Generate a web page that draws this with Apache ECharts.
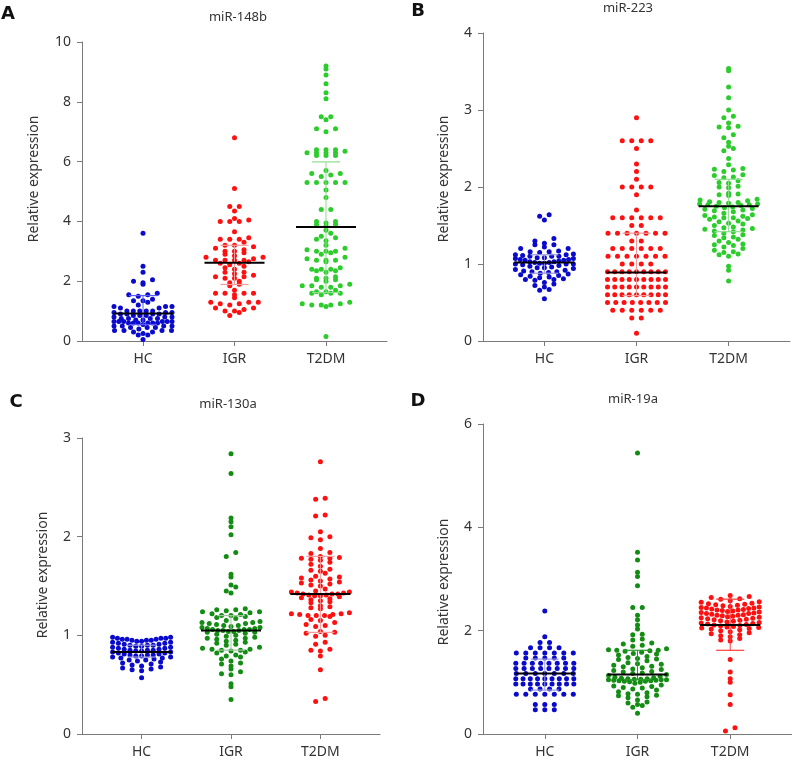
<!DOCTYPE html>
<html><head><meta charset="utf-8">
<script src="https://cdn.jsdelivr.net/npm/echarts@6/dist/echarts.min.js"></script>
<style>html,body{margin:0;padding:0;background:#fff}#c{width:792px;height:762px}</style>
</head><body><div id="c"></div>
<script>
const categories = ['HC', 'IGR', 'T2DM'];
const panelLetters = ['A', 'B', 'C', 'D'];
const panelTitles = ['miR-148b', 'miR-223', 'miR-130a', 'miR-19a'];
const yAxisName = 'Relative expression';
const yMax = [10, 4, 3, 6];
const yInterval = [2, 1, 1, 2];

// Panel A: miR-148b
const a_HC = [3.6, 2.5, 2.3, 2.05, 2.0, 1.95, 1.9, 1.6, 1.55, 1.55, 1.5, 1.4, 1.35, 1.35, 1.3, 1.2, 1.15, 1.15, 1.15, 1.1, 1.1, 1.0, 1.0, 1.0, 1.0, 1.0, 0.95, 0.95, 0.95, 0.9, 0.9, 0.9, 0.9, 0.85, 0.85, 0.85, 0.8, 0.8, 0.8, 0.75, 0.75, 0.75, 0.75, 0.7, 0.7, 0.65, 0.65, 0.65, 0.65, 0.65, 0.65, 0.6, 0.6, 0.6, 0.6, 0.6, 0.6, 0.55, 0.5, 0.5, 0.5, 0.5, 0.45, 0.45, 0.45, 0.4, 0.35, 0.35, 0.35, 0.35, 0.3, 0.3, 0.25, 0.2, 0.2, 0.05];
const a_IGR = [6.8, 5.1, 4.5, 4.5, 4.35, 4.1, 4.05, 4.0, 4.0, 4.0, 3.65, 3.45, 3.4, 3.4, 3.4, 3.3, 3.2, 3.2, 3.15, 3.1, 3.05, 3.0, 3.0, 2.95, 2.9, 2.85, 2.8, 2.8, 2.75, 2.7, 2.7, 2.7, 2.7, 2.65, 2.6, 2.6, 2.55, 2.5, 2.45, 2.4, 2.3, 2.3, 2.25, 2.2, 2.15, 2.15, 2.1, 2.1, 2.0, 1.95, 1.9, 1.85, 1.7, 1.6, 1.6, 1.6, 1.6, 1.55, 1.45, 1.3, 1.3, 1.3, 1.25, 1.25, 1.2, 1.1, 1.1, 1.05, 1.0, 1.0, 0.95, 0.85];
const a_T2DM = [9.2, 9.1, 8.9, 8.6, 8.3, 8.1, 7.5, 7.5, 7.4, 7.1, 7.1, 7.0, 6.4, 6.4, 6.4, 6.35, 6.3, 6.3, 6.3, 6.3, 6.2, 6.2, 6.2, 5.7, 5.6, 5.6, 5.55, 5.5, 5.3, 5.3, 5.3, 5.3, 5.3, 5.05, 4.8, 4.4, 4.4, 4.0, 4.0, 3.95, 3.9, 3.9, 3.85, 3.7, 3.6, 3.5, 3.45, 3.4, 3.35, 3.2, 3.1, 3.05, 3.0, 3.0, 3.0, 2.95, 2.9, 2.8, 2.75, 2.7, 2.7, 2.7, 2.65, 2.45, 2.4, 2.4, 2.4, 2.35, 2.35, 2.3, 2.15, 2.1, 2.1, 2.05, 2.05, 2.0, 1.9, 1.85, 1.85, 1.85, 1.8, 1.8, 1.7, 1.65, 1.65, 1.6, 1.6, 1.6, 1.55, 1.3, 1.25, 1.25, 1.2, 1.2, 1.2, 1.15, 0.15];
const a_center = [0.92, 2.62, 3.81];
const a_lower = [0.55, 1.89, 1.62];
const a_upper = [1.52, 3.20, 5.99];

// Panel B: miR-223
const b_HC = [1.64, 1.62, 1.57, 1.33, 1.3, 1.27, 1.25, 1.25, 1.22, 1.2, 1.2, 1.17, 1.16, 1.16, 1.15, 1.13, 1.12, 1.12, 1.11, 1.1, 1.1, 1.1, 1.08, 1.08, 1.07, 1.07, 1.06, 1.06, 1.05, 1.05, 1.04, 1.03, 1.03, 1.02, 1.02, 1.01, 1.01, 1.0, 1.0, 1.0, 0.99, 0.98, 0.97, 0.96, 0.95, 0.95, 0.94, 0.93, 0.92, 0.91, 0.9, 0.9, 0.89, 0.88, 0.87, 0.86, 0.85, 0.84, 0.83, 0.82, 0.81, 0.8, 0.8, 0.79, 0.76, 0.74, 0.72, 0.7, 0.67, 0.66, 0.55];
const b_IGR = [2.9, 2.6, 2.6, 2.6, 2.6, 2.5, 2.3, 2.2, 2.1, 2.0, 2.0, 2.0, 2.0, 1.9, 1.7, 1.6, 1.6, 1.6, 1.6, 1.6, 1.6, 1.5, 1.5, 1.4, 1.4, 1.4, 1.4, 1.4, 1.4, 1.4, 1.3, 1.3, 1.2, 1.2, 1.2, 1.2, 1.2, 1.2, 1.1, 1.1, 1.1, 1.1, 1.1, 1.1, 1.1, 1.0, 1.0, 1.0, 1.0, 0.9, 0.9, 0.9, 0.9, 0.9, 0.9, 0.9, 0.9, 0.9, 0.8, 0.8, 0.8, 0.8, 0.8, 0.8, 0.8, 0.8, 0.8, 0.7, 0.7, 0.7, 0.7, 0.7, 0.7, 0.7, 0.7, 0.7, 0.6, 0.6, 0.6, 0.6, 0.6, 0.6, 0.6, 0.6, 0.6, 0.5, 0.5, 0.5, 0.5, 0.5, 0.5, 0.5, 0.5, 0.4, 0.4, 0.4, 0.4, 0.4, 0.4, 0.3, 0.3, 0.1];
const b_T2DM = [3.54, 3.51, 3.3, 3.16, 3.0, 2.92, 2.9, 2.83, 2.79, 2.78, 2.77, 2.68, 2.64, 2.58, 2.53, 2.5, 2.47, 2.37, 2.29, 2.24, 2.23, 2.22, 2.2, 2.16, 2.15, 2.13, 2.12, 2.08, 2.06, 2.05, 2.01, 2.0, 1.99, 1.92, 1.91, 1.9, 1.89, 1.84, 1.83, 1.82, 1.81, 1.8, 1.8, 1.79, 1.78, 1.78, 1.77, 1.77, 1.76, 1.75, 1.74, 1.73, 1.72, 1.71, 1.7, 1.69, 1.68, 1.66, 1.64, 1.63, 1.62, 1.61, 1.6, 1.6, 1.59, 1.58, 1.56, 1.55, 1.53, 1.52, 1.5, 1.48, 1.47, 1.46, 1.45, 1.44, 1.43, 1.42, 1.4, 1.38, 1.37, 1.35, 1.34, 1.32, 1.3, 1.28, 1.26, 1.25, 1.24, 1.22, 1.2, 1.18, 1.16, 1.15, 1.13, 1.12, 1.1, 0.97, 0.92, 0.78];
const b_center = [1.02, 0.89, 1.75];
const b_lower = [0.88, 0.59, 1.42];
const b_upper = [1.12, 1.40, 2.10];

// Panel C: miR-130a
const c_HC = [0.98, 0.98, 0.97, 0.97, 0.97, 0.96, 0.96, 0.96, 0.95, 0.95, 0.95, 0.94, 0.94, 0.93, 0.93, 0.92, 0.92, 0.91, 0.91, 0.9, 0.9, 0.9, 0.89, 0.89, 0.88, 0.88, 0.87, 0.87, 0.86, 0.86, 0.85, 0.85, 0.85, 0.84, 0.84, 0.83, 0.83, 0.82, 0.82, 0.81, 0.81, 0.8, 0.8, 0.8, 0.79, 0.79, 0.78, 0.78, 0.77, 0.77, 0.76, 0.75, 0.75, 0.74, 0.73, 0.72, 0.71, 0.7, 0.69, 0.68, 0.67, 0.66, 0.65, 0.64, 0.57];
const c_IGR = [2.84, 2.64, 2.19, 2.15, 2.1, 2.02, 1.84, 1.8, 1.62, 1.59, 1.51, 1.49, 1.45, 1.43, 1.27, 1.26, 1.26, 1.25, 1.24, 1.24, 1.23, 1.22, 1.21, 1.2, 1.2, 1.19, 1.18, 1.17, 1.15, 1.14, 1.13, 1.13, 1.12, 1.12, 1.11, 1.1, 1.1, 1.09, 1.08, 1.08, 1.07, 1.07, 1.06, 1.06, 1.06, 1.05, 1.05, 1.05, 1.04, 1.04, 1.03, 1.03, 1.02, 1.01, 1.0, 0.99, 0.98, 0.97, 0.97, 0.96, 0.95, 0.94, 0.93, 0.92, 0.91, 0.9, 0.88, 0.87, 0.86, 0.86, 0.85, 0.85, 0.84, 0.83, 0.82, 0.8, 0.79, 0.78, 0.76, 0.74, 0.72, 0.71, 0.69, 0.66, 0.63, 0.61, 0.6, 0.51, 0.48, 0.35];
const c_T2DM = [2.76, 2.39, 2.38, 2.22, 2.21, 2.05, 2.0, 1.99, 1.97, 1.88, 1.84, 1.83, 1.8, 1.79, 1.78, 1.78, 1.77, 1.76, 1.74, 1.72, 1.7, 1.67, 1.66, 1.65, 1.63, 1.6, 1.59, 1.58, 1.57, 1.56, 1.55, 1.54, 1.53, 1.52, 1.51, 1.5, 1.47, 1.45, 1.44, 1.44, 1.43, 1.43, 1.42, 1.42, 1.42, 1.41, 1.41, 1.4, 1.4, 1.39, 1.38, 1.37, 1.36, 1.35, 1.34, 1.33, 1.3, 1.29, 1.28, 1.27, 1.23, 1.22, 1.22, 1.21, 1.21, 1.2, 1.2, 1.2, 1.19, 1.16, 1.15, 1.13, 1.11, 1.1, 1.09, 1.04, 1.03, 1.02, 1.0, 0.99, 0.93, 0.91, 0.86, 0.85, 0.84, 0.79, 0.65, 0.36, 0.33];
const c_center = [0.83, 1.05, 1.42];
const c_lower = [0.78, 0.85, 1.03];
const c_upper = [0.90, 1.20, 1.80];

// Panel D: miR-19a
const d_HC = [2.38, 1.88, 1.77, 1.77, 1.67, 1.67, 1.67, 1.67, 1.57, 1.57, 1.57, 1.57, 1.57, 1.57, 1.57, 1.47, 1.47, 1.47, 1.47, 1.47, 1.37, 1.37, 1.37, 1.37, 1.37, 1.37, 1.37, 1.37, 1.27, 1.27, 1.27, 1.27, 1.27, 1.27, 1.27, 1.27, 1.17, 1.17, 1.17, 1.17, 1.17, 1.17, 1.17, 1.07, 1.07, 1.07, 1.07, 1.07, 1.07, 1.07, 1.07, 1.07, 0.97, 0.97, 0.97, 0.97, 0.97, 0.97, 0.97, 0.97, 0.97, 0.87, 0.87, 0.87, 0.87, 0.77, 0.77, 0.77, 0.77, 0.77, 0.77, 0.77, 0.57, 0.57, 0.57, 0.47, 0.47, 0.47];
const d_IGR = [5.44, 3.52, 3.37, 3.13, 3.05, 2.87, 2.45, 2.45, 2.3, 2.21, 2.11, 2.03, 1.93, 1.92, 1.84, 1.82, 1.76, 1.74, 1.72, 1.7, 1.65, 1.63, 1.62, 1.62, 1.61, 1.6, 1.58, 1.56, 1.55, 1.53, 1.5, 1.48, 1.46, 1.45, 1.44, 1.42, 1.38, 1.36, 1.35, 1.33, 1.31, 1.3, 1.28, 1.26, 1.25, 1.23, 1.21, 1.2, 1.18, 1.17, 1.15, 1.13, 1.12, 1.1, 1.09, 1.08, 1.07, 1.07, 1.06, 1.06, 1.05, 1.05, 1.05, 1.04, 1.04, 1.03, 1.03, 1.02, 1.02, 1.01, 1.0, 0.98, 0.95, 0.93, 0.92, 0.9, 0.89, 0.87, 0.85, 0.82, 0.8, 0.78, 0.77, 0.75, 0.74, 0.72, 0.7, 0.66, 0.62, 0.6, 0.57, 0.55, 0.52, 0.4];
const d_T2DM = [2.68, 2.66, 2.64, 2.62, 2.61, 2.58, 2.56, 2.55, 2.53, 2.52, 2.51, 2.5, 2.49, 2.48, 2.47, 2.46, 2.45, 2.44, 2.44, 2.43, 2.42, 2.41, 2.4, 2.4, 2.39, 2.38, 2.37, 2.36, 2.35, 2.34, 2.33, 2.33, 2.32, 2.31, 2.3, 2.3, 2.29, 2.28, 2.27, 2.26, 2.25, 2.24, 2.23, 2.22, 2.21, 2.2, 2.19, 2.18, 2.17, 2.16, 2.15, 2.14, 2.13, 2.12, 2.11, 2.1, 2.09, 2.08, 2.07, 2.06, 2.05, 2.04, 2.03, 2.02, 2.0, 1.98, 1.96, 1.94, 1.92, 1.9, 1.88, 1.85, 1.82, 1.8, 1.44, 1.2, 1.07, 1.0, 0.76, 0.57, 0.12, 0.06];
const d_center = [1.17, 1.15, 2.11];
const d_lower = [0.85, 1.05, 1.62];
const d_upper = [1.45, 1.62, 2.61];

const panelGroups = [[a_HC, a_IGR, a_T2DM], [b_HC, b_IGR, b_T2DM], [c_HC, c_IGR, c_T2DM], [d_HC, d_IGR, d_T2DM]];
const panelCenter = [a_center, b_center, c_center, d_center];
const panelLower = [a_lower, b_lower, c_lower, d_lower];
const panelUpper = [a_upper, b_upper, c_upper, d_upper];

// styling / layout
const BLUE = '#0a0acc', RED = '#ff1010', GREEN = '#2ccc2c', DGREEN = '#138c13';
const dotColors = [[BLUE, RED, GREEN], [BLUE, RED, GREEN], [BLUE, DGREEN, RED], [BLUE, DGREEN, RED]];
const barColors = [['#5a5aff', '#f59a9a', '#8edf8e'], ['#9a9ae0', '#f59a9a', '#8edf8e'], ['#9a9ae0', '#9fc89f', '#f59a9a'], ['#9a9ae0', '#2a9a2a', '#ff3a3a']];
const grids = [
  {left: 82, top: 42, width: 305, height: 299},
  {left: 483, top: 33, width: 307, height: 308},
  {left: 82, top: 438, width: 298, height: 296},
  {left: 483, top: 424, width: 309, height: 310}
];
const xMin = -2 / 3, xMax = 8 / 3;
const binPx = [4.6, 5, 5, 5.2];
const maxSpacePx = 9.5, maxWidthPx = 58;
const FONT = '"Noto Sans", "Liberation Sans", sans-serif';
const AXIS_COLOR = '#7a7a7a';

function swarm(values, cat, p) {
  const g = grids[p];
  const yUnitsPerPx = yMax[p] / g.height;
  const xUnitsPerPx = (xMax - xMin) / g.width;
  const bin = binPx[p] * yUnitsPerPx;
  const bins = new Map();
  values.forEach(v => {
    const k = Math.round(v / bin);
    if (!bins.has(k)) bins.set(k, []);
    bins.get(k).push(v);
  });
  const pts = [];
  bins.forEach(arr => {
    arr.sort((a, b) => a - b);
    const n = arr.length;
    const spPx = n > 1 ? Math.min(maxSpacePx, maxWidthPx / (n - 1)) : 0;
    const pos = [];
    for (let k = 0; k < n; k++) pos.push((k - (n - 1) / 2) * spPx);
    pos.sort((a, b) => Math.abs(a) - Math.abs(b) || a - b);
    arr.forEach((v, j) => pts.push([cat + pos[j] * xUnitsPerPx, v]));
  });
  return pts;
}

const option = {
  animation: false,
  backgroundColor: '#fff',
  grid: grids.map(g => Object.assign({containLabel: false}, g)),
  xAxis: grids.map((g, i) => ({
    type: 'value', gridIndex: i, min: xMin, max: xMax,
    axisLine: {show: true, onZero: false, lineStyle: {color: AXIS_COLOR, width: 1}},
    splitLine: {show: false},
    axisTick: {show: true, customValues: [0, 1, 2], length: 5, inside: false, lineStyle: {color: AXIS_COLOR}},
    axisLabel: {customValues: [0, 1, 2], formatter: v => categories[Math.round(v)], color: '#333', fontSize: 14, fontFamily: FONT, margin: 11},
    minorTick: {show: false}
  })),
  yAxis: grids.map((g, i) => ({
    type: 'value', gridIndex: i, min: 0, max: yMax[i], interval: yInterval[i],
    axisLine: {show: true, onZero: false, lineStyle: {color: AXIS_COLOR, width: 1}},
    splitLine: {show: false},
    axisTick: {show: true, length: 5, inside: false, lineStyle: {color: AXIS_COLOR}},
    axisLabel: {color: '#333', fontSize: 14, fontFamily: FONT, margin: 11}
  })),
  graphic: [],
  series: []
};

const titlePos = [[238, 17], [628, 8], [228, 404], [633, 399]];
const letterPos = [[8, 14], [418, 11], [16, 402], [418, 401]];
const namePos = [[34, 179], [444, 179], [43, 575], [444, 582]];
for (let p = 0; p < 4; p++) {
  option.graphic.push({type: 'text', x: titlePos[p][0], y: titlePos[p][1], silent: true,
    style: {text: panelTitles[p], textAlign: 'center', textVerticalAlign: 'middle', font: '13px ' + FONT, fill: '#333'}});
  option.graphic.push({type: 'text', x: letterPos[p][0], y: letterPos[p][1], silent: true,
    style: {text: panelLetters[p], textAlign: 'center', textVerticalAlign: 'middle', font: 'bold 18px "DejaVu Sans", sans-serif', fill: '#111'}});
  option.graphic.push({type: 'text', x: namePos[p][0], y: namePos[p][1], rotation: Math.PI / 2, silent: true,
    style: {text: yAxisName, textAlign: 'center', textVerticalAlign: 'middle', font: '14px ' + FONT, fill: '#333'}});

  panelGroups[p].forEach((vals, c) => {
    option.series.push({
      type: 'scatter', name: categories[c], xAxisIndex: p, yAxisIndex: p,
      data: swarm(vals, c, p), symbol: 'circle', symbolSize: 5, silent: true, z: 2,
      itemStyle: {color: dotColors[p][c], opacity: 1}
    });
  });

  const barData = categories.map((name, c) => [c, panelCenter[p][c], panelLower[p][c], panelUpper[p][c]]);
  option.series.push({
    type: 'custom', xAxisIndex: p, yAxisIndex: p, silent: true, z: 5,
    data: barData,
    renderItem: (function (pi) {
      return function (params, api) {
        const c = api.value(0);
        const pc = api.coord([c, api.value(1)]);
        const pl = api.coord([c, api.value(2)]);
        const pu = api.coord([c, api.value(3)]);
        const col = barColors[pi][params.dataIndex];
        const cap = 14, half = 30;
        return {type: 'group', children: [
          {type: 'line', shape: {x1: pc[0], y1: pl[1], x2: pc[0], y2: pu[1]}, style: {stroke: col, lineWidth: 1}},
          {type: 'line', shape: {x1: pc[0] - cap, y1: pl[1], x2: pc[0] + cap, y2: pl[1]}, style: {stroke: col, lineWidth: 1.2}},
          {type: 'line', shape: {x1: pc[0] - cap, y1: pu[1], x2: pc[0] + cap, y2: pu[1]}, style: {stroke: col, lineWidth: 1.2}},
          {type: 'line', shape: {x1: pc[0] - half, y1: pc[1], x2: pc[0] + half, y2: pc[1]}, style: {stroke: '#000', lineWidth: 2}}
        ]};
      };
    })(p)
  });
}

const chart = echarts.init(document.getElementById('c'), null, {renderer: 'canvas'});
chart.setOption(option);
</script>
</body></html>
